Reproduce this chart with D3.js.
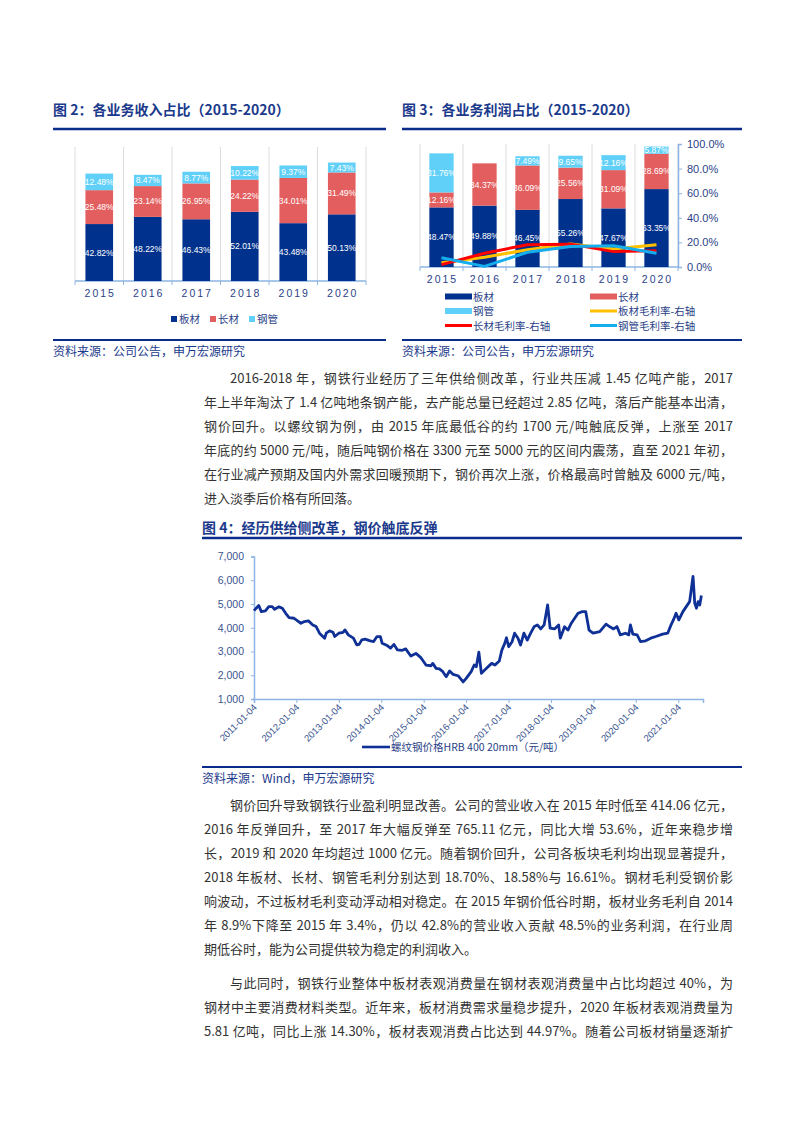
<!DOCTYPE html>
<html>
<head>
<meta charset="utf-8">
<script src="https://cdn.jsdelivr.net/npm/d3@7"></script>
<style>
body { margin: 0; background: #fff; }
#page { position: relative; width: 793px; height: 1122px; overflow: hidden; background: #fff; }
#page svg { position: absolute; left: 0; top: 0; }
.para-line {
    position: absolute; height: 24px; line-height: 24px;
    font-family: "Noto Sans CJK SC", sans-serif; font-size: 13px; color: #333;
    text-align: justify; text-align-last: justify;
}
.para-line.last { text-align-last: left; }
</style>
</head>
<body>
<div id="page"></div>
<script>
// Figure 2 / 3 categories
const years = ["2015", "2016", "2017", "2018", "2019", "2020"];

// Figure 2: revenue share (%)
const revPlate = [42.82, 48.22, 46.43, 52.01, 43.48, 50.13];
const revLong = [25.48, 23.14, 26.95, 24.22, 34.01, 31.49];
const revPipe = [12.48, 8.47, 8.77, 10.22, 9.37, 7.43];

// Figure 3: profit share (%), 2016 pipe not shown
const profPlate = [48.47, 49.88, 46.45, 55.26, 47.67, 63.35];
const profLong = [12.16, 34.37, 36.09, 25.56, 31.09, 28.69];
const profPipe = [31.76, null, 7.49, 9.65, 12.16, 5.87];

// Figure 3: gross margins, right axis (%)
const gmPlate = [3.4, 8.0, 14.0, 18.7, 14.7, 18.1];
const gmLong = [1.9, 11.2, 18.1, 18.58, 12.5, 13.3];
const gmPipe = [7.5, 0.5, 12.0, 16.61, 17.2, 11.2];
const pctTicks = [0, 20, 40, 60, 80, 100];

// Figure 4: rebar HRB400 20mm price (yuan/ton)
const rebarPrice = [
    ["2011-01-04", 4720], ["2011-02-14", 4935], ["2011-03-08", 4680], ["2011-04-12", 4710],
    ["2011-05-11", 4890], ["2011-06-10", 4890], ["2011-06-30", 4780], ["2011-08-07", 4880],
    ["2011-09-05", 4820], ["2011-10-04", 4610], ["2011-11-02", 4430], ["2011-12-15", 4400],
    ["2012-01-14", 4290], ["2012-02-12", 4190], ["2012-03-13", 4260], ["2012-04-17", 4290],
    ["2012-05-24", 4120], ["2012-06-22", 4050], ["2012-07-21", 3770], ["2012-09-03", 3560],
    ["2012-09-17", 3770], ["2012-10-16", 3870], ["2012-11-14", 3810], ["2012-11-29", 3630],
    ["2013-01-03", 3770], ["2013-02-10", 3810], ["2013-02-25", 3910], ["2013-03-26", 3700],
    ["2013-05-09", 3560], ["2013-06-07", 3280], ["2013-06-27", 3300], ["2013-07-20", 3490],
    ["2013-08-18", 3520], ["2013-10-01", 3450], ["2013-10-30", 3420], ["2013-11-28", 3630],
    ["2013-12-27", 3630], ["2014-01-11", 3350], ["2014-02-24", 3250], ["2014-03-25", 3140],
    ["2014-04-23", 3300], ["2014-05-22", 3070], ["2014-07-04", 3050], ["2014-08-02", 3110],
    ["2014-09-15", 2810], ["2014-10-29", 2920], ["2014-12-11", 2740], ["2015-01-24", 2430],
    ["2015-03-08", 2400], ["2015-03-23", 2500], ["2015-04-21", 2290], ["2015-05-19", 2270],
    ["2015-06-18", 2150], ["2015-07-17", 1940], ["2015-08-15", 2180], ["2015-09-13", 2040],
    ["2015-10-27", 1980], ["2015-12-10", 1720], ["2016-01-05", 1870], ["2016-02-17", 2150],
    ["2016-03-14", 2430], ["2016-04-01", 2360], ["2016-04-23", 2970], ["2016-05-15", 2080],
    ["2016-06-28", 2290], ["2016-08-11", 2500], ["2016-09-09", 2430], ["2016-10-16", 2600],
    ["2016-11-07", 3060], ["2016-12-02", 3340], ["2016-12-17", 3580], ["2017-01-05", 3200],
    ["2017-02-03", 3410], ["2017-02-25", 3770], ["2017-03-26", 3560], ["2017-04-17", 3270],
    ["2017-05-16", 3770], ["2017-06-14", 3480], ["2017-07-13", 3770], ["2017-08-11", 4040],
    ["2017-09-09", 4120], ["2017-10-08", 3950], ["2017-11-06", 4120], ["2017-12-06", 4960],
    ["2017-12-28", 3980], ["2018-02-03", 3950], ["2018-03-11", 4120], ["2018-03-25", 3560],
    ["2018-05-01", 4040], ["2018-05-30", 3900], ["2018-06-28", 4190], ["2018-07-27", 4400],
    ["2018-08-25", 4610], ["2018-10-01", 4680], ["2018-10-30", 4680], ["2018-11-28", 3900],
    ["2019-01-01", 3770], ["2019-02-28", 3840], ["2019-04-23", 4150], ["2019-05-26", 4040],
    ["2019-06-27", 3950], ["2019-07-26", 4050], ["2019-08-24", 3700], ["2019-10-07", 3770],
    ["2019-11-05", 3700], ["2019-11-19", 4120], ["2019-12-10", 3730], ["2020-01-16", 3700],
    ["2020-02-14", 3420], ["2020-03-29", 3450], ["2020-05-12", 3560], ["2020-06-25", 3630],
    ["2020-08-22", 3730], ["2020-10-05", 3770], ["2020-11-03", 4120], ["2020-11-23", 4330],
    ["2020-12-16", 4610], ["2021-01-09", 4330], ["2021-02-13", 4680], ["2021-03-14", 4890],
    ["2021-04-12", 5100], ["2021-05-11", 6160], ["2021-05-26", 5030], ["2021-06-10", 4820],
    ["2021-06-24", 5100], ["2021-07-08", 4960], ["2021-07-22", 5360]
];
const priceTicks = ["2011-01-04", "2012-01-04", "2013-01-04", "2014-01-04", "2015-01-04", "2016-01-04",
    "2017-01-04", "2018-01-04", "2019-01-04", "2020-01-04", "2021-01-04"];
const priceYTicks = [1000, 2000, 3000, 4000, 5000, 6000, 7000];

// Body text, one entry per printed line
const para1Lines = [
    "2016-2018 年，钢铁行业经历了三年供给侧改革，行业共压减 1.45 亿吨产能，2017",
    "年上半年淘汰了 1.4 亿吨地条钢产能，去产能总量已经超过 2.85 亿吨，落后产能基本出清，",
    "钢价回升。以螺纹钢为例，由 2015 年底最低谷的约 1700 元/吨触底反弹，上涨至 2017",
    "年底的约 5000 元/吨，随后吨钢价格在 3300 元至 5000 元的区间内震荡，直至 2021 年初，",
    "在行业减产预期及国内外需求回暖预期下，钢价再次上涨，价格最高时曾触及 6000 元/吨，",
    "进入淡季后价格有所回落。"
];
const para2Lines = [
    "钢价回升导致钢铁行业盈利明显改善。公司的营业收入在 2015 年时低至 414.06 亿元，",
    "2016 年反弹回升，至 2017 年大幅反弹至 765.11 亿元，同比大增 53.6%，近年来稳步增",
    "长，2019 和 2020 年均超过 1000 亿元。随着钢价回升，公司各板块毛利均出现显著提升，",
    "2018 年板材、长材、钢管毛利分别达到 18.70%、18.58%与 16.61%。钢材毛利受钢价影",
    "响波动，不过板材毛利变动浮动相对稳定。在 2015 年钢价低谷时期，板材业务毛利自 2014",
    "年 8.9%下降至 2015 年 3.4%，仍以 42.8%的营业收入贡献 48.5%的业务利润，在行业周",
    "期低谷时，能为公司提供较为稳定的利润收入。"
];
const para3Lines = [
    "与此同时，钢铁行业整体中板材表观消费量在钢材表观消费量中占比均超过 40%，为",
    "钢材中主要消费材料类型。近年来，板材消费需求量稳步提升，2020 年板材表观消费量为",
    "5.81 亿吨，同比上涨 14.30%，板材表观消费占比达到 44.97%。随着公司板材销量逐渐扩"
];

const cjk = '"Noto Sans CJK SC", sans-serif';
const latin = '"Liberation Sans", Arial, sans-serif';
const navy = "#00318c";
const red = "#e35e5e";
const cyan = "#60d0f8";
const titleBlue = "#1b3a8c";
const ruleBlue = "#0b2d8a";
const axisBlue = "#8db4e2";
const labelBlue = "#2a3f87";

const page = d3.select("#page");
const svg = page.append("svg").attr("width", 793).attr("height", 1122);

// Title, top rule, bottom rule and source line of one figure block
function frame(x0, x1, titleY, ruleY, bottomY, title, source) {
    svg.append("text")
        .attr("x", x0).attr("y", titleY + 5)
        .attr("font-family", cjk).attr("font-weight", 700).attr("font-size", 14)
        .attr("fill", titleBlue)
        .text(title);
    svg.append("line")
        .attr("x1", x0).attr("x2", x1).attr("y1", ruleY).attr("y2", ruleY)
        .attr("stroke", ruleBlue).attr("stroke-width", 2.5);
    svg.append("line")
        .attr("x1", x0).attr("x2", x1).attr("y1", bottomY).attr("y2", bottomY)
        .attr("stroke", ruleBlue).attr("stroke-width", 2.2);
    svg.append("text")
        .attr("x", x0).attr("y", bottomY + 16)
        .attr("font-family", cjk).attr("font-size", 12)
        .attr("fill", titleBlue)
        .text(source);
}

// Light vertical gridlines at category boundaries plus bottom axis line with ticks
function categoryFrame(x, yTop, yBase) {
    const [r0, r1] = x.range();
    const bounds = d3.range(years.length + 1).map(i => r0 + i * x.step());
    svg.append("g").selectAll("line")
        .data(bounds)
        .join("line")
        .attr("x1", d => d).attr("x2", d => d)
        .attr("y1", yTop).attr("y2", yBase)
        .attr("stroke", "#dcdcdc").attr("stroke-width", 1);
    svg.append("line")
        .attr("x1", r0).attr("x2", r1).attr("y1", yBase).attr("y2", yBase)
        .attr("stroke", axisBlue).attr("stroke-width", 1.5);
    svg.append("g").selectAll("line")
        .data(bounds)
        .join("line")
        .attr("x1", d => d).attr("x2", d => d)
        .attr("y1", yBase).attr("y2", yBase + 4)
        .attr("stroke", axisBlue).attr("stroke-width", 1);

    const ax = svg.append("g")
        .attr("transform", `translate(0,${yBase})`)
        .call(d3.axisBottom(x).tickSize(0).tickPadding(9));
    ax.select(".domain").remove();
    ax.selectAll("text")
        .attr("font-family", latin).attr("font-size", 10.5)
        .attr("letter-spacing", "2px").attr("dx", "1px")
        .attr("fill", labelBlue);
}

// Stacked bars with white value labels
function stackedBars(x, y, series) {
    const rows = years.map((yr, i) => {
        const r = { year: yr };
        series.forEach(s => { r[s.key] = s.values[i] || 0; });
        return r;
    });
    const stacked = d3.stack().keys(series.map(s => s.key))(rows);
    stacked.forEach((layer, li) => {
        const g = svg.append("g");
        const pts = layer.filter(d => d[1] - d[0] > 0);
        g.selectAll("rect")
            .data(pts)
            .join("rect")
            .attr("x", d => x(d.data.year))
            .attr("width", x.bandwidth())
            .attr("y", d => y(d[1]))
            .attr("height", d => y(d[0]) - y(d[1]))
            .attr("fill", series[li].color);
        g.selectAll("text")
            .data(pts)
            .join("text")
            .attr("x", d => x(d.data.year) + x.bandwidth() / 2)
            .attr("y", d => y((d[0] + d[1]) / 2) + 3)
            .attr("text-anchor", "middle")
            .attr("font-family", latin).attr("font-size", 8.5)
            .attr("fill", "#fff")
            .text(d => (d[1] - d[0]).toFixed(2) + "%");
    });
}

// ---------- Figure 2 ----------
frame(53, 386, 110, 129, 340, "图 2：各业务收入占比（2015-2020）", "资料来源：公司公告，申万宏源研究");

const x2 = d3.scaleBand().domain(years).range([75, 366]).paddingInner(0.43).paddingOuter(0.215);
const y2 = d3.scaleLinear().domain([0, 100]).range([281, 148]);
categoryFrame(x2, 147, 281);
stackedBars(x2, y2, [
    { key: "plate", values: revPlate, color: navy },
    { key: "long", values: revLong, color: red },
    { key: "pipe", values: revPipe, color: cyan }
]);

const legend2 = [
    { name: "板材", color: navy, x: 171 },
    { name: "长材", color: red, x: 210 },
    { name: "钢管", color: cyan, x: 249 }
];
const lg2 = svg.append("g").selectAll("g").data(legend2).join("g")
    .attr("transform", d => `translate(${d.x},319)`);
lg2.append("rect").attr("x", 0).attr("y", -3).attr("width", 6).attr("height", 6).attr("fill", d => d.color);
lg2.append("text").attr("x", 8).attr("y", 4)
    .attr("font-family", cjk).attr("font-size", 10.5).attr("fill", labelBlue)
    .text(d => d.name);

// ---------- Figure 3 ----------
frame(402, 742, 110, 129, 340, "图 3：各业务利润占比（2015-2020）", "资料来源：公司公告，申万宏源研究");

const x3 = d3.scaleBand().domain(years).range([420, 678]).paddingInner(0.435).paddingOuter(0.2175);
const y3 = d3.scaleLinear().domain([0, 100]).range([267, 144]);
categoryFrame(x3, 144, 267);
stackedBars(x3, y3, [
    { key: "plate", values: profPlate, color: navy },
    { key: "long", values: profLong, color: red },
    { key: "pipe", values: profPipe, color: cyan }
]);

const rAxis = svg.append("g")
    .attr("transform", "translate(678,0)")
    .call(d3.axisRight(y3).tickValues(pctTicks).tickSize(4).tickPadding(5)
        .tickFormat(d => d.toFixed(1) + "%"));
rAxis.select(".domain").attr("stroke", axisBlue).attr("stroke-width", 1.5);
rAxis.selectAll(".tick line").attr("stroke", axisBlue);
rAxis.selectAll("text").attr("font-family", latin).attr("font-size", 11).attr("fill", labelBlue);

const marginLines = [
    { name: "板材毛利率-右轴", values: gmPlate, color: "#ffc000" },
    { name: "长材毛利率-右轴", values: gmLong, color: "#ff0000" },
    { name: "钢管毛利率-右轴", values: gmPipe, color: "#14aeef" }
];
const line3 = d3.line()
    .x((d, i) => x3(years[i]) + x3.bandwidth() / 2)
    .y(d => y3(d));
svg.append("g").selectAll("path")
    .data(marginLines)
    .join("path")
    .attr("d", d => line3(d.values))
    .attr("fill", "none")
    .attr("stroke", d => d.color)
    .attr("stroke-width", 3)
    .attr("stroke-linejoin", "round");

const legend3 = [
    { name: "板材", color: navy, type: "rect", x: 445, y: 296.5 },
    { name: "长材", color: red, type: "rect", x: 590, y: 296.5 },
    { name: "钢管", color: cyan, type: "rect", x: 445, y: 311 },
    { name: marginLines[0].name, color: marginLines[0].color, type: "line", x: 590, y: 311 },
    { name: marginLines[1].name, color: marginLines[1].color, type: "line", x: 445, y: 325.5 },
    { name: marginLines[2].name, color: marginLines[2].color, type: "line", x: 590, y: 325.5 }
];
const lg3 = svg.append("g").selectAll("g").data(legend3).join("g")
    .attr("transform", d => `translate(${d.x},${d.y})`);
lg3.filter(d => d.type === "rect").append("rect")
    .attr("x", 0).attr("y", -3).attr("width", 27).attr("height", 6).attr("fill", d => d.color);
lg3.filter(d => d.type === "line").append("line")
    .attr("x1", 0).attr("x2", 27).attr("y1", 0).attr("y2", 0)
    .attr("stroke", d => d.color).attr("stroke-width", 3);
lg3.append("text").attr("x", 28).attr("y", 4)
    .attr("font-family", cjk).attr("font-size", 10.5).attr("fill", labelBlue)
    .text(d => d.name);

// ---------- Figure 4 ----------
frame(202, 742, 528, 538, 767, "图 4：经历供给侧改革，钢价触底反弹", "资料来源：Wind，申万宏源研究");

const parseDate = d3.timeParse("%Y-%m-%d");
const x4 = d3.scaleTime()
    .domain([parseDate("2011-01-04"), parseDate("2021-08-05")])
    .range([254, 703]);
const y4 = d3.scaleLinear().domain([1000, 7000]).range([699, 556.5]);

const yAx4 = svg.append("g")
    .attr("transform", "translate(254,0)")
    .call(d3.axisLeft(y4).tickValues(priceYTicks).tickSize(3).tickPadding(7).tickFormat(d3.format(",")));
yAx4.select(".domain").attr("stroke", axisBlue).attr("stroke-width", 1.5);
yAx4.selectAll(".tick line").attr("stroke", axisBlue);
yAx4.selectAll("text").attr("font-family", latin).attr("font-size", 10.5).attr("fill", "#3a558f");

const xAx4 = svg.append("g")
    .attr("transform", "translate(0,699)")
    .call(d3.axisBottom(x4).tickValues(priceTicks.map(parseDate)).tickSize(4)
        .tickFormat(d3.timeFormat("%Y-%m-%d")));
xAx4.select(".domain").attr("stroke", axisBlue).attr("stroke-width", 1.5);
xAx4.selectAll(".tick line").attr("stroke", axisBlue);
xAx4.selectAll("text")
    .attr("x", 0).attr("y", 0).attr("dy", "0")
    .attr("text-anchor", "end")
    .attr("transform", "translate(3,9) rotate(-45)")
    .attr("font-family", latin).attr("font-size", 9.5).attr("fill", "#3a558f");

svg.append("path")
    .datum(rebarPrice)
    .attr("d", d3.line().x(d => x4(parseDate(d[0]))).y(d => y4(d[1])))
    .attr("fill", "none")
    .attr("stroke", "#0f3096")
    .attr("stroke-width", 2.8)
    .attr("stroke-linejoin", "round");

svg.append("line")
    .attr("x1", 362).attr("x2", 390).attr("y1", 747).attr("y2", 747)
    .attr("stroke", "#0f3096").attr("stroke-width", 2.6);
svg.append("text")
    .attr("x", 391).attr("y", 751)
    .attr("font-family", cjk).attr("font-size", 10.5).attr("fill", "#2a3f87")
    .text("螺纹钢价格HRB 400 20mm（元/吨）");

// ---------- Body paragraphs ----------
function paragraph(lines, firstY, lastIsFinal) {
    lines.forEach((txt, i) => {
        const indent = i === 0 ? 26 : 0;
        const isLast = lastIsFinal && i === lines.length - 1;
        page.append("div")
            .attr("class", "para-line" + (isLast ? " last" : ""))
            .style("left", (204 + indent) + "px")
            .style("width", (529 - indent) + "px")
            .style("top", (firstY + i * 24 - 12) + "px")
            .text(txt);
    });
}
paragraph(para1Lines, 378, true);
paragraph(para2Lines, 805, true);
paragraph(para3Lines, 983, false);
</script>
</body>
</html>
